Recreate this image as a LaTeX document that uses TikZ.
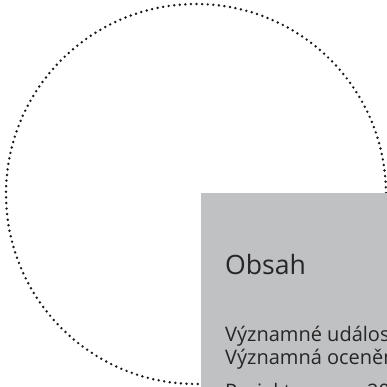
\documentclass[tikz,border=0pt]{standalone}
\usepackage{fontspec}
\setmainfont{Open Sans}
\definecolor{panelgray}{HTML}{C0C1C3}
\definecolor{dotgray}{HTML}{1A1A1A}
\definecolor{inkgray}{HTML}{262626}
\tikzset{
  dotring/.style = {draw = dotgray, line width = 2.7bp, line cap = round,
    dash pattern = on 0bp off 5.6bp},
  heading/.style = {anchor = base west, inner sep = 0, text = inkgray,
    font = \fontsize{26.6bp}{28bp}\selectfont},
  entry/.style = {anchor = base west, inner sep = 0, text = inkgray,
    font = \fontsize{20bp}{22.7bp}\selectfont}
}

\begin{document}
\begin{tikzpicture}[x = 1bp, y = -1bp]
  \pgfmathsetmacro{\cx}{196}
  \pgfmathsetmacro{\cy}{194}
  \pgfmathsetmacro{\rr}{190}

  \useasboundingbox (0, 0) rectangle (387, 387);
  \clip (0, 0) rectangle (387, 387);

  \draw[dotring] (\cx, \cy) circle[radius = \rr];

  \fill[panelgray] (201, 193) rectangle (400, 400);

  \node[heading] (obsah) at (225, 274) {Obsah};
  \node[entry] (udalosti) at (225, 341) {Významné události roku};
  \node[entry] (oceneni) at (225, 364) {Významná ocenění};
  \node[entry] (projekty) at (225, 398) {Projekty v roce 2019};
\end{tikzpicture}
\end{document}
